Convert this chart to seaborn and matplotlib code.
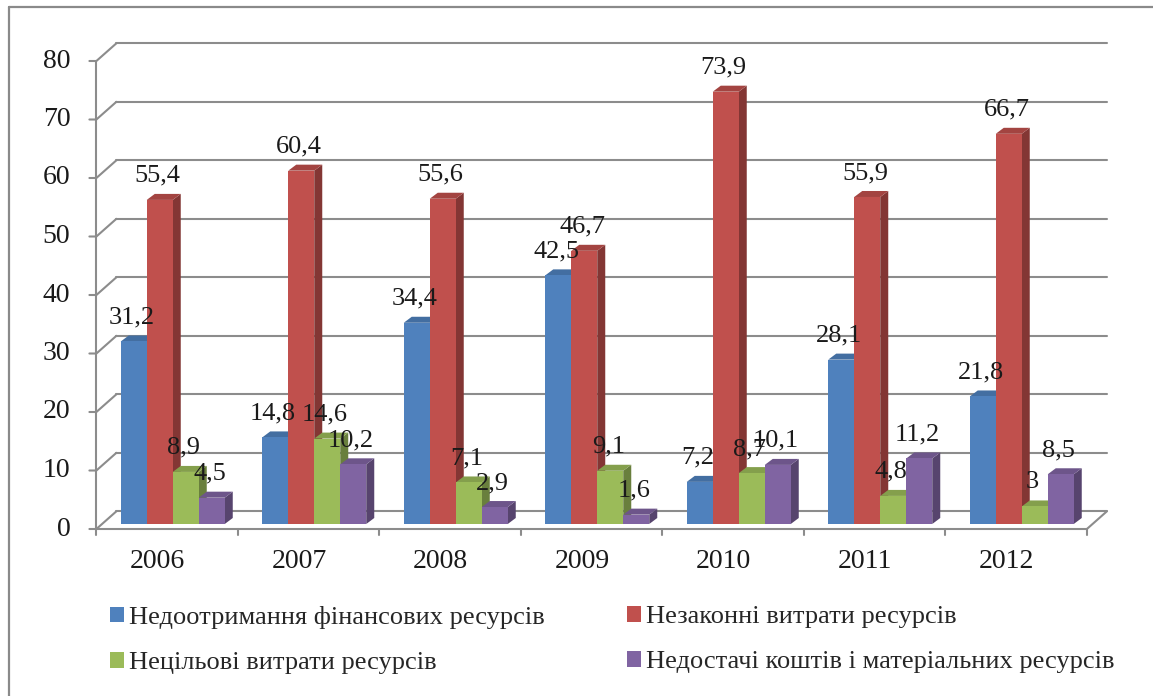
import numpy as np
import pandas as pd
import seaborn as sns
import matplotlib
matplotlib.use("Agg")
import matplotlib.pyplot as plt
from matplotlib.patches import Polygon, Patch
from matplotlib.lines import Line2D
from matplotlib.transforms import offset_copy, IdentityTransform

# ---- data -------------------------------------------------------------
years = ["2006", "2007", "2008", "2009", "2010", "2011", "2012"]
series = [
    "Недоотримання фінансових ресурсів",
    "Незаконні витрати ресурсів",
    "Нецільові витрати ресурсів",
    "Недостачі коштів і матеріальних ресурсів",
]
underreceived = [31.2, 14.8, 34.4, 42.5, 7.2, 28.1, 21.8]
illegal_spending = [55.4, 60.4, 55.6, 46.7, 73.9, 55.9, 66.7]
misuse = [8.9, 14.6, 7.1, 9.1, 8.7, 4.8, 3.0]
shortages = [4.5, 10.2, 2.9, 1.6, 10.1, 11.2, 8.5]
y_ticks = [0, 10, 20, 30, 40, 50, 60, 70, 80]

colors = ["#4F81BD", "#C0504D", "#9BBB59", "#8064A2"]

df = pd.DataFrame({
    "year": years * 4,
    "series": np.repeat(series, len(years)),
    "value": underreceived + illegal_spending + misuse + shortages,
})

# ---- figure -------------------------------------------------------------
sns.set_theme(style="white")
plt.rcParams["font.family"] = ["Liberation Serif", "DejaVu Serif"]
DPI = 100
W, H = 1153, 696
fig = plt.figure(figsize=(W / DPI, H / DPI), dpi=DPI)
fig.patch.set_facecolor("white")

# axes = the plane in which the bar fronts stand
ax = fig.add_axes([102 / W, (H - 524) / H, 990.5 / W, 468 / H])
sns.barplot(data=df, x="year", y="value", hue="series", order=years,
            hue_order=series, palette=colors, saturation=1, width=0.735,
            gap=0, linewidth=0, legend=False, ax=ax, zorder=3)
ax.set_xlim(-0.5, len(years) - 0.5)
ax.set_ylim(0, 80)
ax.set_axis_off()

GRID = "#8C8C8C"
TXT = "#1A1A1A"
# oblique offsets (pixels) from bar plane to the front axis and the back wall
front_tr = offset_copy(ax.transData, fig=fig, x=-5.6, y=-5.0, units="dots")
back_tr = offset_copy(ax.transData, fig=fig, x=14.4, y=12.7, units="dots")
x_lo, x_hi = -0.5, len(years) - 0.5

# back wall gridlines and the left-side diagonals
for t in y_ticks:
    ax.add_line(Line2D([x_lo, x_hi], [t, t], transform=back_tr, color=GRID,
                       lw=1.5, zorder=1, clip_on=False))
    fx, fy = front_tr.transform((x_lo, t))
    bx, by = back_tr.transform((x_lo, t))
    ax.add_line(Line2D([fx - 7, fx, bx], [fy, fy, by], transform=IdentityTransform(),
                       color=GRID, lw=1.5, zorder=1, clip_on=False))
    ax.text(fx - 26, fy, str(t), transform=IdentityTransform(), ha="right",
            va="center", fontsize=20, color=TXT)

# front vertical axis
fx0, fy0 = front_tr.transform((x_lo, 0))
fx8, fy8 = front_tr.transform((x_lo, 80))
ax.add_line(Line2D([fx0, fx8], [fy0, fy8], transform=IdentityTransform(),
                   color=GRID, lw=1.5, zorder=1, clip_on=False))

# floor: front edge with category ticks, right edge
ax.add_line(Line2D([x_lo, x_hi], [0, 0], transform=front_tr, color=GRID,
                   lw=1.5, zorder=1, clip_on=False))
for k in range(len(years) + 1):
    tx, ty = front_tr.transform((x_lo + k, 0))
    ax.add_line(Line2D([tx, tx], [ty, ty - 6], transform=IdentityTransform(),
                       color=GRID, lw=1.5, zorder=1, clip_on=False))
rfx, rfy = front_tr.transform((x_hi, 0))
rbx, rby = back_tr.transform((x_hi, 0))
ax.add_line(Line2D([rfx, rbx], [rfy, rby], transform=IdentityTransform(),
                   color=GRID, lw=1.5, zorder=1, clip_on=False))

# category labels
for i, yr in enumerate(years):
    cx, cy = front_tr.transform((i, 0))
    ax.text(cx - 9.5, cy - 33, yr, transform=IdentityTransform(), ha="center",
            va="center", fontsize=20, color=TXT)

# ---- 3D faces on the bars ----------------------------------------------
def shade(c, f):
    r, g, b = matplotlib.colors.to_rgb(c)
    return (r * f, g * f, b * f)

DX, DY = 8, 6
bars = sorted([p for p in ax.patches if p.get_height() > 0], key=lambda p: p.get_x())
for k, p in enumerate(bars):
    z = 3 + k * 0.01
    base = p.get_facecolor()
    x0, w, h = p.get_x(), p.get_width(), p.get_height()
    X0, Y0 = ax.transData.transform((x0, 0))
    X1, Y1 = ax.transData.transform((x0 + w, h))
    side = Polygon([(X1, Y0), (X1 + DX, Y0 + DY), (X1 + DX, Y1 + DY), (X1, Y1)],
                   closed=True, transform=IdentityTransform(),
                   facecolor=shade(base, 0.68), edgecolor="none", zorder=z, clip_on=False)
    top = Polygon([(X0, Y1), (X1, Y1), (X1 + DX, Y1 + DY), (X0 + DX, Y1 + DY)],
                  closed=True, transform=IdentityTransform(),
                  facecolor=shade(base, 0.85), edgecolor="none", zorder=z, clip_on=False)
    ax.add_patch(side)
    ax.add_patch(top)
    p.set_zorder(z + 0.001)
    p.set_clip_on(False)

# value labels
for k, p in enumerate(bars):
    v = p.get_height()
    label = f"{v:g}".replace(".", ",")
    ax.annotate(label, xy=(p.get_x() + p.get_width() / 2, v),
                xytext=(-1.5, 17.3), textcoords="offset points",
                ha="center", va="center", fontsize=19, color=TXT,
                zorder=10, annotation_clip=False)

# ---- legend (two columns) ---------------------------------------------
def make_legend(idx, x_px):
    handles = [Patch(facecolor=colors[i], edgecolor="none") for i in idx]
    labels = [series[i] for i in idx]
    return fig.legend(handles, labels, loc="upper left",
                      bbox_to_anchor=(x_px / W, (H - 606) / H),
                      frameon=False, fontsize=19, handlelength=0.53,
                      handleheight=0.53, handletextpad=0.2,
                      labelspacing=0.88, borderpad=0, borderaxespad=0)

leg1 = make_legend([0, 2], 110)
leg2 = make_legend([1, 3], 627)

# outer frame (left and top edges)
fig.add_artist(Line2D([9, 9], [0, H - 7], transform=IdentityTransform(),
                      color="#8A8A8A", lw=1.6))
fig.add_artist(Line2D([9, W], [H - 7, H - 7], transform=IdentityTransform(),
                      color="#8A8A8A", lw=1.6))

fig.savefig("out.png", dpi=DPI, facecolor="white")
